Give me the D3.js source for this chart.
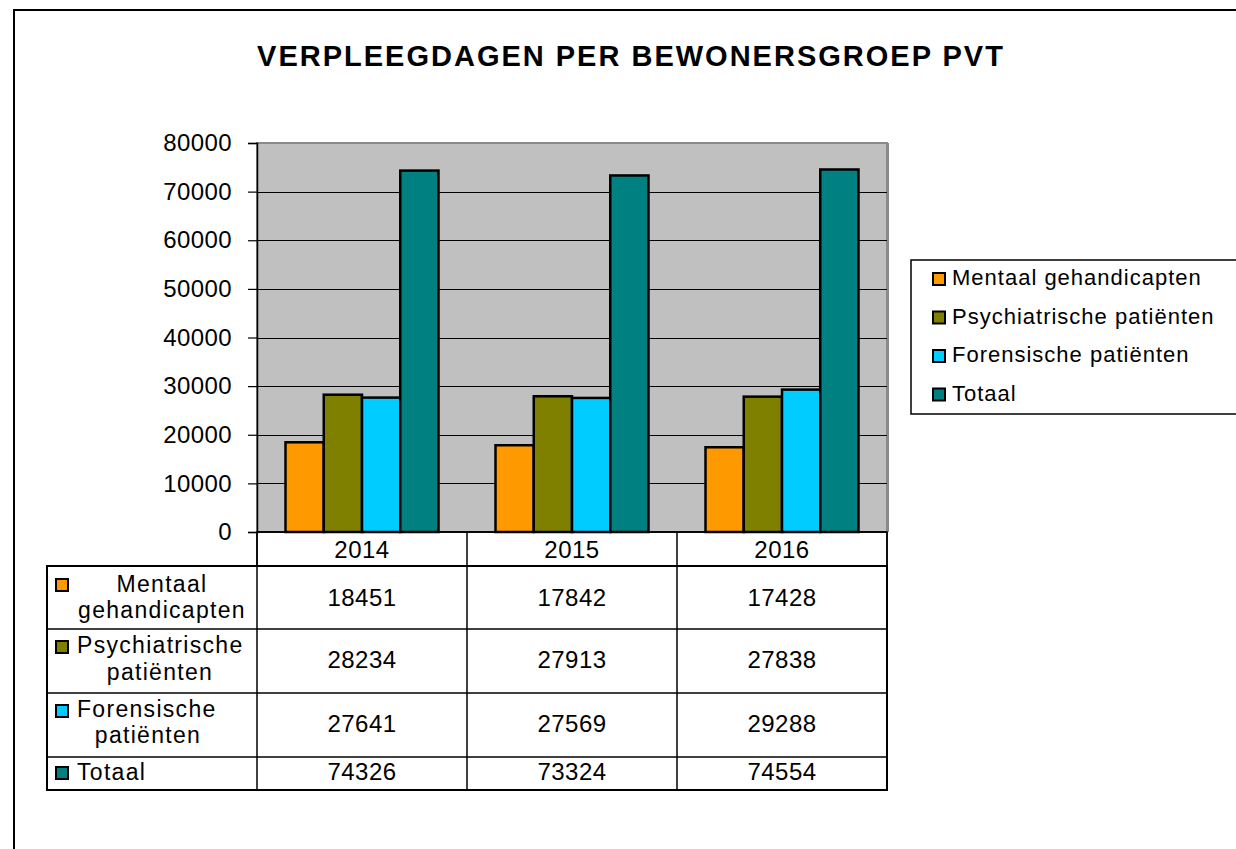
<!doctype html>
<meta charset='utf-8'>
<title>Verpleegdagen per bewonersgroep PVT</title>
<style type="text/css">
	html, body { margin:0; padding:0; background:#fff; }
	svg { display:block; }
	text { font-family:"Liberation Sans", Arial, sans-serif; fill:#000; }
</style>
<div id='container'></div>
<script src="https://cdnjs.cloudflare.com/ajax/libs/d3/7.8.5/d3.min.js" charset="utf-8"></script>
<script>

	var title = 'VERPLEEGDAGEN PER BEWONERSGROEP PVT'
	var years = ['2014', '2015', '2016']
	var seriesNames = ['Mentaal gehandicapten', 'Psychiatrische patiënten', 'Forensische patiënten', 'Totaal']
	var rowLabels = [['Mentaal', 'gehandicapten'], ['Psychiatrische', 'patiënten'], ['Forensische', 'patiënten'], ['Totaal']]
	var mentaal = [18451, 17842, 17428]
	var psychiatrisch = [28234, 27913, 27838]
	var forensisch = [27641, 27569, 29288]
	var totaal = [74326, 73324, 74554]
	var yTicks = [0, 10000, 20000, 30000, 40000, 50000, 60000, 70000, 80000]
	var colors = ['#ff9900', '#808000', '#00ccff', '#008080']

	var values = [mentaal, psychiatrisch, forensisch, totaal]

	function attrs(props) {
		return function (selection) {
			Object.keys(props).forEach(function(k){
				selection.attr(k, props[k])
			})
			return selection
		}
	}

	var W = 1236, H = 849
	var plot = {left:257, right:887, top:143, bottom:532}
	var tableLeft = 47
	var rowEdges = [532, 566, 629, 693, 757, 790]

	var svg = d3.select('#container').append('svg')
		.attr('width', W).attr('height', H)

	// outer frame (runs off the page to the right and bottom)
	svg.append('rect').call(attrs({x:14, y:10, width:1400, height:1000, fill:'#fff', stroke:'#000', 'stroke-width':2}))

	svg.append('text').call(attrs({x:631, y:66, 'text-anchor':'middle', 'font-size':29, 'font-weight':'bold', 'letter-spacing':2}))
		.text(title)

	var x0 = d3.scaleBand().domain(years).range([plot.left, plot.right])
	var x1 = d3.scaleBand().domain(d3.range(seriesNames.length))
		.range([28.5, x0.bandwidth() - 28.5])
	var y = d3.scaleLinear().domain([0, 80000]).range([plot.bottom, plot.top])

	// plot area
	svg.append('rect').call(attrs({
		x:plot.left, y:plot.top, width:plot.right - plot.left, height:plot.bottom - plot.top,
		fill:'#c0c0c0', stroke:'#8a8a8a', 'stroke-width':2
	}))
	svg.append('line').call(attrs({x1:plot.right + 1, x2:plot.right + 1, y1:plot.top, y2:plot.bottom, stroke:'#8a8a8a', 'stroke-width':2}))

	svg.append('g').selectAll('line').data(yTicks.slice(1, -1)).join('line').call(attrs({
		x1:plot.left, x2:plot.right,
		y1:function(d){ return Math.round(y(d)) + 0.5 },
		y2:function(d){ return Math.round(y(d)) + 0.5 },
		stroke:'#000', 'stroke-width':1.2
	}))

	var yAxis = svg.append('g')
		.attr('transform', 'translate(' + plot.left + ',0)')
		.call(d3.axisLeft(y).tickValues(yTicks).tickSize(9).tickPadding(16).tickFormat(d3.format('d')))
	yAxis.select('.domain').attr('stroke', '#000').attr('stroke-width', 1.5)
	yAxis.selectAll('.tick line').attr('stroke', '#000').attr('stroke-width', 1.2)
	yAxis.selectAll('.tick text').call(attrs({'font-size':24, 'letter-spacing':0.4, 'font-family':'"Liberation Sans", Arial, sans-serif', fill:'#000'}))

	// bars
	var groups = svg.append('g').selectAll('g').data(years).join('g')
		.attr('transform', function(d){ return 'translate(' + x0(d) + ',0)' })
	groups.selectAll('rect').data(function(d, i){
		return values.map(function(s, k){ return {k:k, v:s[i]} })
	}).join('rect').call(attrs({
		x:function(d){ return x1(d.k) },
		width:x1.bandwidth(),
		y:function(d){ return y(d.v) },
		height:function(d){ return y(0) - y(d.v) },
		fill:function(d){ return colors[d.k] },
		stroke:'#000', 'stroke-width':2.5
	}))

	svg.append('line').call(attrs({x1:plot.left, x2:plot.right, y1:plot.bottom, y2:plot.bottom, stroke:'#000', 'stroke-width':1.5}))

	// data table
	var table = svg.append('g')
	var lineStyle = {stroke:'#000', 'stroke-width':1.5, fill:'none'}
	table.append('rect').call(attrs({x:tableLeft, y:rowEdges[1], width:plot.right - tableLeft, height:rowEdges[5] - rowEdges[1]})).call(attrs(lineStyle)).attr('stroke-width', 2)
	table.append('rect').call(attrs({x:plot.left, y:rowEdges[0], width:plot.right - plot.left, height:rowEdges[1] - rowEdges[0]})).call(attrs(lineStyle))
	table.selectAll('.hline').data(rowEdges.slice(2, -1)).join('line').call(attrs({
		x1:tableLeft, x2:plot.right, y1:function(d){ return d }, y2:function(d){ return d }
	})).call(attrs(lineStyle))
	table.selectAll('.vline').data(years.map(function(d){ return x0(d) }).concat([plot.right])).join('line').call(attrs({
		x1:function(d){ return d }, x2:function(d){ return d }, y1:rowEdges[0], y2:rowEdges[5]
	})).call(attrs(lineStyle))

	table.selectAll('.year').data(years).join('text').call(attrs({
		x:function(d){ return x0(d) + x0.bandwidth() / 2 }, y:558, 'text-anchor':'middle', 'font-size':24, 'letter-spacing':0.5
	})).text(function(d){ return d })

	var valueBaselines = [606, 668, 732, 780]
	values.forEach(function(s, k){
		table.selectAll('.v' + k).data(s).join('text').call(attrs({
			x:function(d, i){ return x0(years[i]) + x0.bandwidth() / 2 },
			y:valueBaselines[k], 'text-anchor':'middle', 'font-size':24, 'letter-spacing':0.5
		})).text(function(d){ return d })
	})

	// row headers: key square plus wrapped label
	var squareY = [579, 641, 705, 767]
	var labelLayout = [
		[{x:162, y:592, a:'middle'}, {x:162, y:618, a:'middle'}],
		[{x:77, y:653, a:'start'}, {x:160, y:680, a:'middle'}],
		[{x:77, y:717, a:'start'}, {x:148, y:743, a:'middle'}],
		[{x:77, y:780, a:'start'}]
	]
	rowLabels.forEach(function(lines, k){
		table.append('rect').call(attrs({x:56, y:squareY[k], width:12, height:12, fill:colors[k], stroke:'#000', 'stroke-width':2}))
		lines.forEach(function(t, j){
			var p = labelLayout[k][j]
			table.append('text').call(attrs({x:p.x, y:p.y, 'text-anchor':p.a, 'font-size':23, 'letter-spacing':1.3}))
				.text(t)
		})
	})

	// legend
	var legend = svg.append('g')
	legend.append('rect').call(attrs({x:911, y:260, width:340, height:154, fill:'#fff', stroke:'#000', 'stroke-width':1.5}))
	var legendItems = legend.selectAll('g').data(seriesNames).join('g')
		.attr('transform', function(d, i){ return 'translate(933,' + (285 + i * 38.5) + ')' })
	legendItems.append('rect').call(attrs({x:0, y:-12, width:12, height:12, fill:function(d, i){ return colors[i] }, stroke:'#000', 'stroke-width':2}))
	legendItems.append('text').call(attrs({x:19, y:0, 'font-size':22, 'letter-spacing':1}))
		.text(function(d){ return d })

</script>
